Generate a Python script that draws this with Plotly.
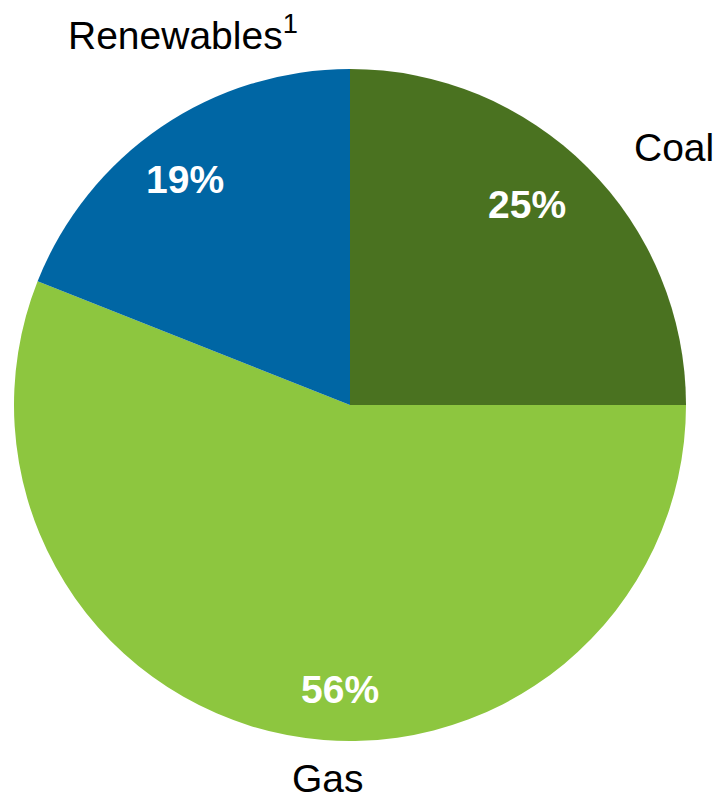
import plotly.graph_objects as go

# Electricity generation mix
categories = ["Coal", "Gas", "Renewables"]
shares = [25, 56, 19]
category_labels = ["Coal", "Gas", "Renewables<sup>1</sup>"]
colors = ["#4A7220", "#8DC63F", "#0066A4"]

W, H = 719, 800
ML, MR, MT, MB = 14, 33, 69, 59
plot_w = W - ML - MR
plot_h = H - MT - MB


def paper(px, py):
    return (px - ML) / plot_w, 1 - (py - MT) / plot_h


fig = go.Figure(
    go.Pie(
        labels=categories,
        values=shares,
        marker=dict(colors=colors, line=dict(width=0)),
        sort=False,
        direction="clockwise",
        rotation=0,
        textinfo="none",
        hoverinfo="label+percent",
        showlegend=False,
    )
)

pct_pos = {"Coal": (527, 204), "Gas": (340, 689), "Renewables": (185, 179)}
name_pos = {"Coal": (674, 147), "Gas": (328, 778), "Renewables": (183, 33)}

FONT = "Liberation Sans, Arial, sans-serif"
annotations = []
for cat, val, lab in zip(categories, shares, category_labels):
    x, y = paper(*pct_pos[cat])
    annotations.append(dict(
        x=x, y=y, xref="paper", yref="paper", text=f"<b>{val}%</b>",
        showarrow=False, xanchor="center", yanchor="middle",
        font=dict(family=FONT, size=39, color="white"),
    ))
    x, y = paper(*name_pos[cat])
    annotations.append(dict(
        x=x, y=y, xref="paper", yref="paper", text=lab,
        showarrow=False, xanchor="center", yanchor="middle",
        font=dict(family=FONT, size=39, color="black"),
    ))

fig.update_layout(
    width=W, height=H,
    margin=dict(l=ML, r=MR, t=MT, b=MB, pad=0),
    paper_bgcolor="white", plot_bgcolor="white",
    annotations=annotations,
)

fig.write_html("out.html")
